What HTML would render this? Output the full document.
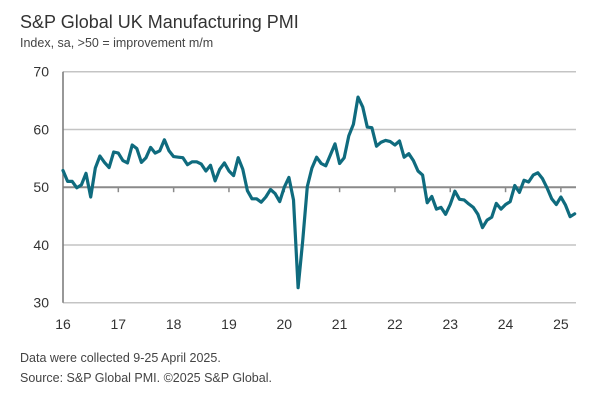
<!DOCTYPE html>
<html><head><meta charset="utf-8"><style>
body{margin:0;background:#fff;width:600px;height:401px;overflow:hidden;font-family:"Liberation Sans",sans-serif}
</style></head><body>
<svg width="600" height="401" id="c">
<text x="20" y="28" font-size="18" fill="#333">S&amp;P Global UK Manufacturing PMI</text>
<text x="20" y="47" font-size="12.5" fill="#444">Index, sa, &gt;50 = improvement m/m</text>
<text x="20" y="362" font-size="12.5" fill="#444">Data were collected 9-25 April 2025.</text>
<text x="20" y="382" font-size="12.5" fill="#444">Source: S&amp;P Global PMI. ©2025 S&amp;P Global.</text>
<g id="grid"></g><g id="axes"></g><g id="series"></g>
</svg>
<script>
const yTicks=[30,40,50,60,70];
const xLabels=["16","17","18","19","20","21","22","23","24","25"];
const pmi2016=[52.9,51.0,51.0,49.9,50.4,52.4,48.3,53.3,55.4,54.3,53.4,56.1];
const pmi2017=[55.9,54.6,54.2,57.3,56.7,54.3,55.1,56.9,55.9,56.3,58.2,56.3];
const pmi2018=[55.3,55.2,55.1,53.9,54.4,54.4,54.0,52.8,53.8,51.1,53.1,54.2];
const pmi2019=[52.8,52.0,55.1,53.1,49.4,48.0,48.0,47.4,48.3,49.6,48.9,47.5];
const pmi2020=[50.0,51.7,47.8,32.6,40.7,50.1,53.3,55.2,54.1,53.7,55.6,57.5];
const pmi2021=[54.1,55.1,58.9,60.9,65.6,63.9,60.4,60.3,57.1,57.8,58.1,57.9];
const pmi2022=[57.3,58.0,55.2,55.8,54.6,52.8,52.1,47.3,48.4,46.2,46.5,45.3];
const pmi2023=[47.0,49.3,47.9,47.8,47.1,46.5,45.3,43.0,44.3,44.8,47.2,46.2];
const pmi2024=[47.0,47.5,50.3,49.1,51.2,50.9,52.1,52.5,51.5,49.9,48.0,47.0];
const pmi2025=[48.3,46.9,44.9,45.4];
const values=[].concat(pmi2016,pmi2017,pmi2018,pmi2019,pmi2020,pmi2021,pmi2022,pmi2023,pmi2024,pmi2025);
const NS="http://www.w3.org/2000/svg";
const x0=63,mw=4.61,yTop=71.7,yBot=302.7;
const xS=i=>x0+i*mw;
const yS=v=>yBot-(v-30)/(70-30)*(yBot-yTop);
function mk(t,a,p){const e=document.createElementNS(NS,t);for(const k in a)e.setAttribute(k,a[k]);p.appendChild(e);return e;}
const grid=document.getElementById('grid'),axes=document.getElementById('axes'),ser=document.getElementById('series');
yTicks.forEach(v=>{
 const l=mk('line',{x1:x0,x2:576,y1:yS(v),y2:yS(v),stroke:v===50?'#8a8a8a':'#c4c4c4','stroke-width':v===50?2:1.5},grid);
 
 
 const t=mk('text',{x:49,y:yS(v)+5,'text-anchor':'end','font-size':14,fill:'#333'},axes);
 t.textContent=v;
 
 
});
const sp=mk('line',{x1:x0,x2:x0,y1:yTop,y2:yBot,stroke:'#777','stroke-width':1.5},axes);


xLabels.forEach((lab,k)=>{
 const x=xS(k*12);
 if(k>0){const tk=mk('line',{x1:x,x2:x,y1:yS(50),y2:yS(50)+5,stroke:'#8a8a8a','stroke-width':1.5},axes);
 
 }
 const t=mk('text',{x:x,y:329,'text-anchor':'middle','font-size':14,fill:'#333'},axes);
 t.textContent=lab;
 
 
});
const p=mk('polyline',{points:values.map((v,i)=>xS(i).toFixed(1)+','+yS(v).toFixed(1)).join(' '),fill:'none',stroke:'#0f6b7e','stroke-width':3.2,'stroke-linejoin':'round','stroke-linecap':'round'},ser);


</script>
</body></html>
